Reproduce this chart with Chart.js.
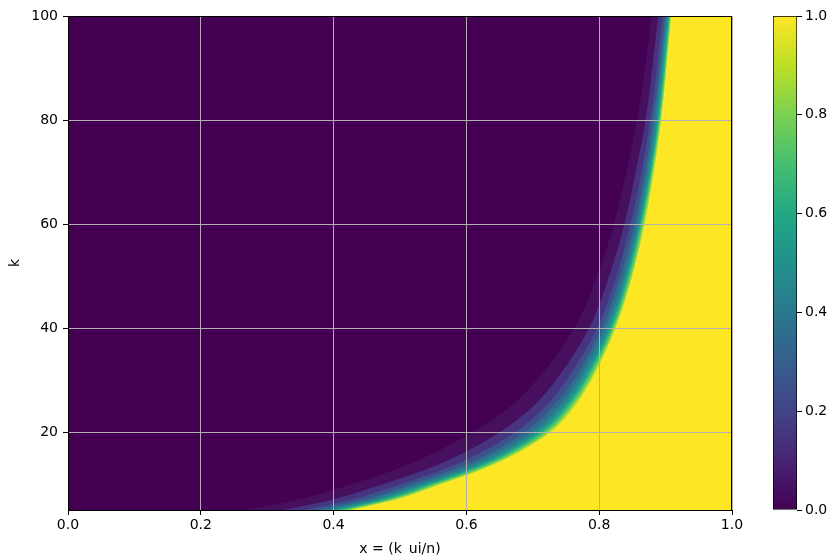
<!DOCTYPE html>
<html>
<head>
<meta charset="utf-8">
<script src="https://cdn.jsdelivr.net/npm/chart.js@4.4.1/dist/chart.umd.min.js"></script>
<style>
  html, body { margin: 0; padding: 0; background: #fff; }
  #wrap { position: relative; width: 831px; height: 555px; }
  #heat { position: absolute; left: 0; top: 0; }
  #cbar { position: absolute; left: 760px; top: 0; }
</style>
</head>
<body>
<div id="wrap">
  <canvas id="heat" width="831" height="555"></canvas>
  <canvas id="cbar" width="71" height="555"></canvas>
</div>
<script>
var kRows = [5, 6, 7.5, 10, 12.5, 15, 20, 25, 30, 40, 50, 60, 70, 80, 90, 100];

// x where the value reaches 0.03, 0.1, 0.2 ... 1.0 at each k row
var lv03  = [0.269, 0.311, 0.363, 0.428, 0.487, 0.535, 0.610, 0.667, 0.706, 0.763, 0.797, 0.822, 0.841, 0.857, 0.869, 0.879];
var lv10  = [0.324, 0.364, 0.413, 0.475, 0.533, 0.580, 0.651, 0.701, 0.735, 0.785, 0.815, 0.838, 0.855, 0.870, 0.880, 0.889];
var lv20  = [0.356, 0.394, 0.442, 0.502, 0.559, 0.605, 0.674, 0.720, 0.751, 0.797, 0.826, 0.847, 0.864, 0.877, 0.887, 0.895];
var lv30  = [0.375, 0.412, 0.460, 0.518, 0.574, 0.621, 0.688, 0.731, 0.761, 0.804, 0.832, 0.853, 0.869, 0.881, 0.891, 0.899];
var lv40  = [0.388, 0.425, 0.471, 0.529, 0.585, 0.631, 0.698, 0.739, 0.768, 0.809, 0.837, 0.857, 0.872, 0.884, 0.893, 0.901];
var lv50  = [0.398, 0.435, 0.481, 0.538, 0.594, 0.640, 0.706, 0.746, 0.773, 0.814, 0.840, 0.860, 0.875, 0.887, 0.895, 0.903];
var lv60  = [0.407, 0.443, 0.489, 0.545, 0.601, 0.646, 0.712, 0.751, 0.778, 0.817, 0.843, 0.862, 0.877, 0.889, 0.897, 0.905];
var lv70  = [0.413, 0.449, 0.495, 0.551, 0.606, 0.652, 0.717, 0.755, 0.781, 0.820, 0.845, 0.864, 0.879, 0.890, 0.899, 0.906];
var lv80  = [0.420, 0.455, 0.501, 0.556, 0.612, 0.657, 0.722, 0.759, 0.785, 0.822, 0.848, 0.866, 0.880, 0.892, 0.900, 0.907];
var lv90  = [0.425, 0.460, 0.506, 0.561, 0.616, 0.661, 0.725, 0.762, 0.787, 0.824, 0.849, 0.868, 0.882, 0.893, 0.901, 0.908];
var lv100 = [0.430, 0.465, 0.510, 0.565, 0.620, 0.665, 0.729, 0.765, 0.790, 0.826, 0.851, 0.869, 0.883, 0.894, 0.902, 0.909];

var xTicks = [0, 0.2, 0.4, 0.6, 0.8, 1.0];
var kTicks = [20, 40, 60, 80, 100];
var cbarTicks = [0, 0.2, 0.4, 0.6, 0.8, 1.0];

// viridis, 0.0 -> 1.0
var viridis = ["#440154", "#482475", "#414487", "#355f8d", "#2a788e", "#21918c",
               "#22a884", "#44bf70", "#7ad151", "#bddf26", "#fde725"];
// colour of the band just left of each contour
var bandColors = ["#440154", "#46105f", "#463480", "#3b528b", "#2f6c8e", "#25848e",
                  "#1e9c89", "#2fb47c", "#5ec962", "#9bd93c", "#dfe318"];

var font = { family: "DejaVu Sans", size: 14 };

document.addEventListener("DOMContentLoaded", function () {
    var contours = [lv03, lv10, lv20, lv30, lv40, lv50, lv60, lv70, lv80, lv90, lv100];

    function pts(xs) {
        return xs.map(function (x, j) { return { x: x, y: kRows[j] }; });
    }

    var datasets = contours.map(function (xs, i) {
        return {
            data: pts(xs),
            fill: { value: 0 },
            backgroundColor: bandColors[i],
            borderWidth: 0,
            pointRadius: 0,
            cubicInterpolationMode: "monotone"
        };
    });
    // saturated part to the right of the last contour
    datasets.push({
        data: pts(lv100),
        fill: { value: 1 },
        backgroundColor: viridis[10],
        borderWidth: 0,
        pointRadius: 0,
        cubicInterpolationMode: "monotone"
    });

    var frame = {
        id: "frame",
        afterDraw: function (chart) {
            var a = chart.chartArea, c = chart.ctx;
            c.save();
            c.strokeStyle = "#000";
            c.lineWidth = 1;
            c.strokeRect(a.left + 0.5, a.top + 0.5, a.right - a.left - 1, a.bottom - a.top);
            c.restore();
        }
    };

    new Chart(document.getElementById("heat"), {
        type: "line",
        data: { datasets: datasets },
        options: {
            responsive: false,
            animation: false,
            indexAxis: "y",
            layout: { padding: { top: 16, right: 99, left: 0, bottom: 0 } },
            plugins: { legend: { display: false }, tooltip: { enabled: false } },
            scales: {
                x: {
                    type: "linear", min: 0, max: 1,
                    afterBuildTicks: function (s) { s.ticks = xTicks.map(function (v) { return { value: v }; }); },
                    afterFit: function (s) { s.height = 45; },
                    grid: { z: 1, color: "#b0b0b0", tickColor: "#000", tickLength: 5, lineWidth: 1 },
                    border: { display: false },
                    ticks: {
                        color: "#000", padding: 2, font: font, maxRotation: 0,
                        callback: function (v) { return v.toFixed(1); }
                    },
                    title: { display: true, text: "x = (k_ui/n)", color: "#000", font: font, padding: { top: 0, bottom: -3 } }
                },
                y: {
                    type: "linear", min: 5, max: 100,
                    afterBuildTicks: function (s) { s.ticks = kTicks.map(function (v) { return { value: v }; }); },
                    afterFit: function (s) { s.width = 68; },
                    grid: { z: 1, color: "#b0b0b0", tickColor: "#000", tickLength: 5, lineWidth: 1 },
                    border: { display: false },
                    ticks: { color: "#000", padding: 5, font: font },
                    title: { display: true, text: "k", color: "#000", font: font, padding: { top: 7, bottom: 0 } }
                }
            }
        },
        plugins: [frame]
    });

    new Chart(document.getElementById("cbar"), {
        type: "bar",
        data: {
            labels: [""],
            datasets: [{
                data: [[0, 1]],
                backgroundColor: function (c) {
                    var a = c.chart.chartArea;
                    if (!a) return viridis[0];
                    var g = c.chart.ctx.createLinearGradient(0, a.bottom, 0, a.top);
                    viridis.forEach(function (col, i) { g.addColorStop(i / (viridis.length - 1), col); });
                    return g;
                },
                borderColor: "#000",
                borderWidth: 1,
                borderSkipped: false,
                barPercentage: 1,
                categoryPercentage: 1
            }]
        },
        options: {
            responsive: false,
            animation: false,
            layout: { padding: { top: 16, bottom: 45, left: 13, right: 0 } },
            plugins: { legend: { display: false }, tooltip: { enabled: false } },
            scales: {
                x: { display: false },
                y: {
                    position: "right", min: 0, max: 1,
                    afterBuildTicks: function (s) { s.ticks = cbarTicks.map(function (v) { return { value: v }; }); },
                    afterFit: function (s) { s.width = 34; },
                    grid: { drawOnChartArea: false, tickColor: "#000", tickLength: 5 },
                    border: { display: false },
                    ticks: {
                        color: "#000", padding: 3, font: font,
                        callback: function (v) { return v.toFixed(1); }
                    }
                }
            }
        }
    });
});
</script>
</body>
</html>
